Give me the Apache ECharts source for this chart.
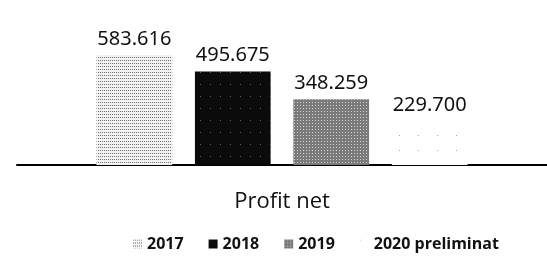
<!DOCTYPE html>
<html lang="ro">
<head>
    <meta charset="UTF-8">
    <title>Profit net</title>
    <script src="https://cdn.jsdelivr.net/npm/echarts@6/dist/echarts.min.js"></script>
</head>
<body style="margin:0;background:#fff;">

<div id="main" style="width:547px;height:260px;"></div>

<script type="text/javascript">
    // date
    var categorii = ['Profit net'];
    var ani = ['2017', '2018', '2019', '2020 preliminat'];
    var valori = [583.616, 495.675, 348.259, 229.700];

    var culori = ['#f2f2f2', '#0b0b0b', '#7a7a7a', '#ffffff'];
    var texturi = [
        {symbol: 'rect', symbolSize: 1, color: 'rgba(0,0,0,0.55)', dashArrayX: [1, 1], dashArrayY: [1, 2]},
        {symbol: 'rect', symbolSize: 1, color: 'rgba(255,255,255,0.35)', dashArrayX: [1, 9], dashArrayY: [1, 11]},
        {symbol: 'rect', symbolSize: 1, color: 'rgba(255,255,255,0.7)', dashArrayX: [1, 2], dashArrayY: [1, 2]},
        {symbol: 'rect', symbolSize: 1, color: 'rgba(0,0,0,0.35)', dashArrayX: [1, 18], dashArrayY: [1, 14]}
    ];

    var myChart = echarts.init(document.getElementById('main'));

    var serii = [];
    for (var i = 0; i < ani.length; i++) {
        serii.push({
            name: ani[i],
            type: 'bar',
            barGap: '30%',
            barCategoryGap: '30%',
            data: [valori[i]],
            itemStyle: {
                color: culori[i],
                decal: texturi[i]
            },
            label: {
                show: true,
                position: 'top',
                distance: 6,
                fontFamily: 'Noto Sans',
                fontSize: 20,
                color: '#111',
                formatter: function (p) {
                    return p.value.toFixed(3);
                }
            }
        });
    }

    var option = {
        animation: false,
        grid: {left: 17, right: 0, top: 33, bottom: 95},
        legend: {
            data: ani,
            top: 231,
            left: 128,
            itemWidth: 9,
            itemHeight: 9,
            itemGap: 25,
            icon: 'rect',
            textStyle: {fontFamily: 'Open Sans', fontWeight: 'bold', fontSize: 16, color: '#111'}
        },
        xAxis: {
            type: 'category',
            data: categorii,
            axisTick: {show: false},
            axisLine: {lineStyle: {color: '#000', width: 2}},
            axisLabel: {fontFamily: 'Open Sans', fontSize: 22, color: '#111', margin: 26}
        },
        yAxis: {
            type: 'value',
            min: 0,
            max: 700,
            show: false,
            splitLine: {show: false}
        },
        series: serii
    };
    myChart.setOption(option);
</script>
</body>
</html>
